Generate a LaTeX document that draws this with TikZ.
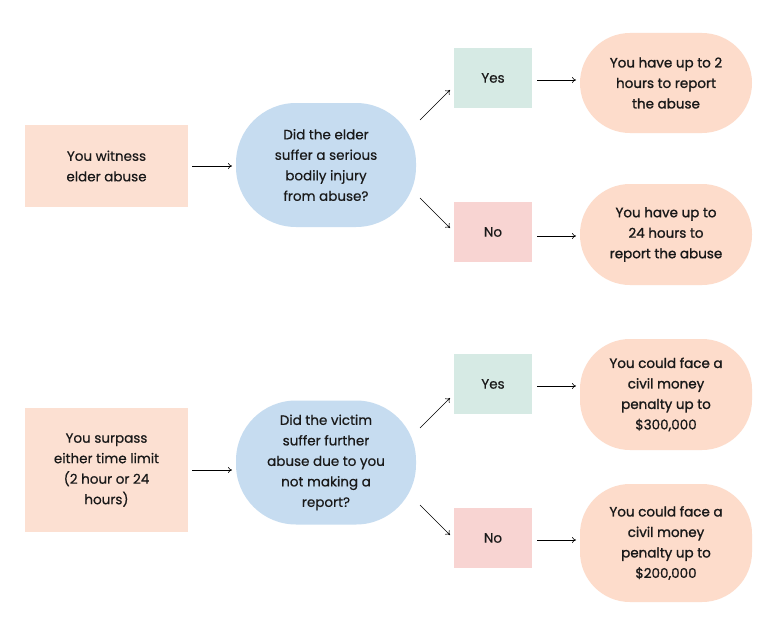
\documentclass[tikz,border=0pt]{standalone}
\usepackage{fontspec}
\setmainfont{Poppins}[UprightFeatures={FakeBold=0.5}]
\newfontfamily\semib{Poppins}[UprightFeatures={FakeBold=1.2}]
\usetikzlibrary{arrows.meta}
\definecolor{peach}{HTML}{FCE0D2}
\definecolor{peachr}{HTML}{FDDCCB}
\definecolor{bluec}{HTML}{C6DCF0}
\definecolor{mint}{HTML}{D6EAE4}
\definecolor{pinkc}{HTML}{F8D4D2}
\begin{document}
\begin{tikzpicture}[x=1pt,y=-1pt,
  txt/.style={align=center,font=\fontsize{13.5}{20.5}\selectfont,text=black!90},
  sq/.style={txt,fill=peach,minimum width=163pt,minimum height=#1,inner sep=0pt},
  pill/.style={txt,fill=bluec,rounded corners=60pt,minimum width=180pt,minimum height=124pt,inner sep=0pt},
  yn/.style={txt,fill=#1,minimum width=78pt,minimum height=60pt,inner sep=0pt},
  res/.style={txt,font=\fontsize{13.5}{20.5}\semib,fill=peachr,rounded corners=50pt,minimum width=172pt,minimum height=#1,inner sep=0pt},
  arr/.style={-{To[length=4pt,width=6pt]},line width=0.6pt}]
\useasboundingbox (0,0) rectangle (768,634);
\fill[white] (0,0) rectangle (768,634);
% top
\node[sq=82pt] (w) at (106.5,166) {You witness\\elder abuse};
\node[pill] (q1) at (326,165) {Did the elder\\suffer a serious\\bodily injury\\from abuse?};
\node[yn=mint] (y1) at (493,78) {Yes};
\node[yn=pinkc] (n1) at (493,232) {No};
\node[res=100pt] (r1) at (666,83) {You have up to 2\\hours to report\\the abuse};
\node[res=101pt] (r2) at (666,234.5) {You have up to\\24 hours to\\report the abuse};
\coordinate (a1) at (192,166); \coordinate (b1) at (232,166);
\draw[arr] (a1) -- (b1);
\coordinate (a2) at (420,120); \coordinate (b2) at (450,90);
\draw[arr] (a2) -- (b2);
\coordinate (a3) at (420,198); \coordinate (b3) at (450,228);
\draw[arr] (a3) -- (b3);
\coordinate (a4) at (537,80); \coordinate (b4) at (576,80);
\draw[arr] (a4) -- (b4);
\coordinate (a5) at (537,236); \coordinate (b5) at (576,236);
\draw[arr] (a5) -- (b5);
% bottom
\node[sq=124pt] (s) at (106.5,470) {You surpass\\either time limit\\(2 hour or 24\\hours)};
\node[pill] (q2) at (326,462.5) {Did the victim\\suffer further\\abuse due to you\\not making a\\report?};
\node[yn=mint] (y2) at (493,384) {Yes};
\node[yn=pinkc] (n2) at (493,538) {No};
\node[res=111pt] (r3) at (666,394.5) {You could face a\\civil money\\penalty up to\\\$300,000};
\node[res=118pt] (r4) at (666,543) {You could face a\\civil money\\penalty up to\\\$200,000};
\coordinate (c1) at (192,470); \coordinate (d1) at (232,470);
\draw[arr] (c1) -- (d1);
\coordinate (c2) at (420,428); \coordinate (d2) at (450,398);
\draw[arr] (c2) -- (d2);
\coordinate (c3) at (420,505); \coordinate (d3) at (450,535);
\draw[arr] (c3) -- (d3);
\coordinate (c4) at (537,386); \coordinate (d4) at (576,386);
\draw[arr] (c4) -- (d4);
\coordinate (c5) at (537,540); \coordinate (d5) at (576,540);
\draw[arr] (c5) -- (d5);
\end{tikzpicture}
\end{document}
